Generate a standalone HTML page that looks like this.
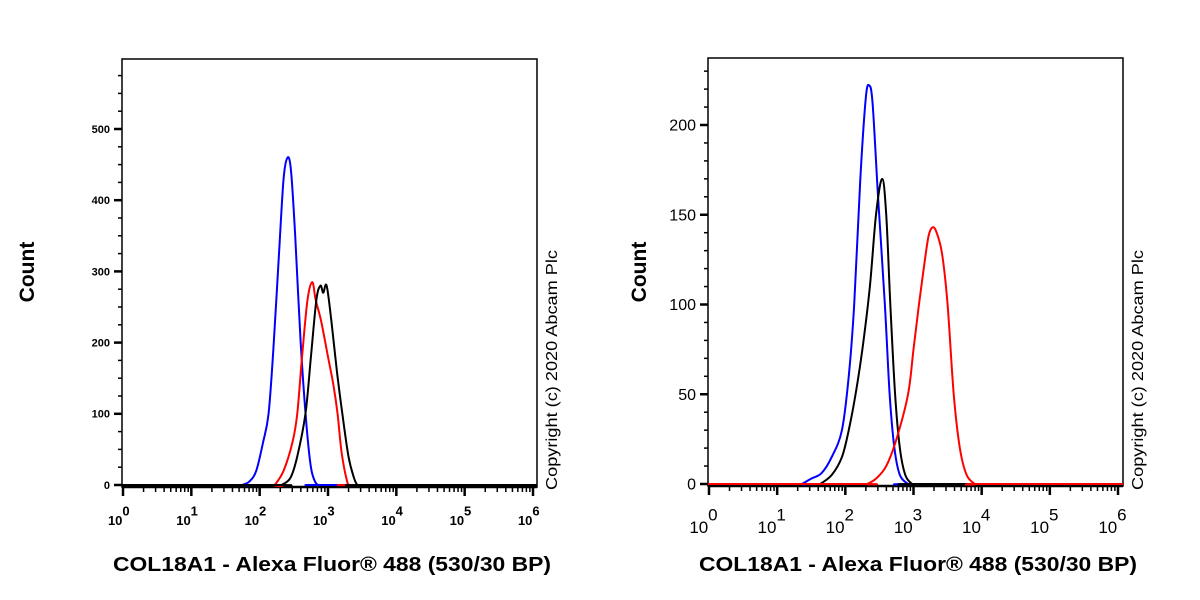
<!DOCTYPE html>
<html><head><meta charset="utf-8"><style>
body{margin:0;background:#fff;}
svg{display:block;font-family:"Liberation Sans",Arial,sans-serif;}
</style></head><body>
<svg id="fig" width="1200" height="600" viewBox="0 0 1200 600"></svg>
<script>
// ---- data (log10 intensity, count) ----
const leftBlueX=[1.74,1.85,1.95,2.05,2.13,2.2,2.28,2.35,2.41,2.46,2.52,2.6,2.68,2.75,2.82,2.88];
const leftBlueY=[0,5,20,60,100,190,320,430,460,440,350,200,90,25,3,0];
const leftRedX=[2.22,2.35,2.48,2.55,2.62,2.7,2.77,2.82,2.9,3.0,3.08,3.14,3.2,3.28,3.32];
const leftRedY=[0,20,60,100,180,260,285,260,230,180,140,100,45,5,0];
const leftBlackX=[2.32,2.45,2.55,2.67,2.75,2.83,2.89,2.93,2.98,3.05,3.13,3.21,3.3,3.38,3.43];
const leftBlackY=[0,10,40,100,180,260,280,270,280,230,160,100,40,10,0];
const rightBlueX=[1.36,1.5,1.65,1.8,1.95,2.05,2.13,2.22,2.3,2.35,2.4,2.48,2.58,2.65,2.72,2.8,2.92];
const rightBlueY=[0,3,6,15,30,60,100,170,215,222,212,160,100,50,20,5,0];
const rightBlackX=[1.63,1.8,1.95,2.05,2.15,2.25,2.36,2.45,2.54,2.6,2.66,2.73,2.8,2.88,2.98];
const rightBlackY=[0,5,15,30,50,75,110,150,170,150,100,50,20,5,0];
const rightRedX=[2.32,2.45,2.6,2.75,2.92,3.0,3.08,3.15,3.22,3.28,3.34,3.42,3.5,3.59,3.68,3.78,3.9];
const rightRedY=[0,3,10,25,50,75,100,120,138,143,140,128,100,50,20,5,0];
const leftYTicks=[0,100,200,300,400,500];
const rightYTicks=[0,50,100,150,200];
const decades=[0,1,2,3,4,5,6];

const NS="http://www.w3.org/2000/svg";
const svg=document.getElementById('fig');
function mk(tag,attrs,parent){const e=document.createElementNS(NS,tag);for(const k in attrs)e.setAttribute(k,attrs[k]);(parent||svg).appendChild(e);return e;}
function smooth(pts){
  let d='M'+pts[0][0]+','+pts[0][1];
  for(let i=0;i<pts.length-1;i++){
    const p0=pts[Math.max(0,i-1)],p1=pts[i],p2=pts[i+1],p3=pts[Math.min(pts.length-1,i+2)];
    const c1=[p1[0]+(p2[0]-p0[0])/6,p1[1]+(p2[1]-p0[1])/6];
    const c2=[p2[0]-(p3[0]-p1[0])/6,p2[1]-(p3[1]-p1[1])/6];
    d+=` C${c1[0]},${c1[1]} ${c2[0]},${c2[1]} ${p2[0]},${p2[1]}`;
  }
  return d;
}

function panel(o){
  const g=mk('g',{});
  
  
  const sx=v=>o.x0+v*(o.x6-o.x0)/6;
  const sy=v=>o.yb-v*(o.yb-o.yTop)/o.ymax;
  const box=mk('rect',{x:o.bx0,y:o.by0,width:o.bx1-o.bx0,height:o.yb+2-o.by0,fill:'none',stroke:'#000','stroke-width':1.5},g);
  
  
  for(let v=0;v<=o.ymaxTick;v+=o.minor){
    const y=sy(v);const major=v%o.majorStep===0;
    mk('line',{x1:o.bx0-(major?8:4),x2:o.bx0,y1:y,y2:y,stroke:'#000','stroke-width':major?2.5:1.5},g);
  }
  o.yticks.forEach(v=>{
    const t=mk('text',{x:o.bx0-12,y:sy(v)+o.yfs*0.35,'text-anchor':'end','font-size':o.yfs,'font-weight':o.ybold?'bold':'normal',fill:'#000'},g);
    t.textContent=v;
    
    
  });
  const ax=o.yb+2;
  mk('line',{x1:o.bx0,x2:o.bx1,y1:ax,y2:ax,stroke:'#000','stroke-width':2.5},g);
  decades.forEach(d=>{
    const x=sx(d);
    mk('line',{x1:x,x2:x,y1:ax,y2:ax+9,stroke:'#000','stroke-width':2.5},g);
    if(d<6){for(let m=2;m<=9;m++){const xx=sx(d+Math.log10(m));mk('line',{x1:xx,x2:xx,y1:ax,y2:ax+5,stroke:'#000','stroke-width':1.5},g);}}
    const t=mk('text',{x:x-o.xfs*0.6,y:o.labY,'text-anchor':'middle','font-size':o.xfs,'font-weight':o.ybold?'bold':'normal',fill:'#000'},g);
    t.textContent='10';
    
    
    const s=mk('text',{x:x+o.xfs*0.55-o.xfs*0.6,y:o.labY-o.xfs*0.75,'font-size':o.xfs,'font-weight':o.ybold?'bold':'normal',fill:'#000'},g);
    s.textContent=d;
  });
  o.series.forEach(s=>{
    const pts=[[o.bx0,o.yb],[sx(s.x[0])-2,o.yb]];
    s.x.forEach((v,i)=>pts.push([sx(v),sy(s.y[i])]));
    pts.push([sx(s.x[s.x.length-1])+2,o.yb]);
    pts.push([o.bx1,o.yb]);
    const p=mk('path',{d:smooth(pts),fill:'none',stroke:s.c,'stroke-width':2,'stroke-linejoin':'round'},g);
    
    
  });
  const yt=mk('text',{x:0,y:0,transform:`translate(${o.countX},272) rotate(-90)`,'text-anchor':'middle','font-size':21,'font-weight':'bold',fill:'#000'},g);
  yt.textContent='Count';
  
  
  const xt=mk('text',{x:o.titleX,y:571,'text-anchor':'middle','font-size':20,'font-weight':'bold',fill:'#000',textLength:438,lengthAdjust:'spacingAndGlyphs'},g);
  xt.textContent='COL18A1 - Alexa Fluor® 488 (530/30 BP)';
  
  
  const cp=mk('text',{x:0,y:0,transform:`translate(${o.copyX},490) rotate(-90)`,'font-size':16,fill:'#000',textLength:240,lengthAdjust:'spacingAndGlyphs'},g);
  cp.textContent='Copyright (c) 2020 Abcam Plc';
  
  
}

panel({name:'left-histogram',bx0:122,bx1:537,by0:59,yb:485,yTop:129,ymax:500,ymaxTick:575,minor:25,majorStep:100,
  x0:123,x6:533,yticks:leftYTicks,yfs:11,ybold:true,xfs:13,labY:525,countX:34,titleX:332,copyX:557,
  series:[{x:leftBlueX,y:leftBlueY,c:'#0000ff',n:'blue-isotype-curve'},{x:leftRedX,y:leftRedY,c:'#ff0000',n:'red-antibody-curve'},{x:leftBlackX,y:leftBlackY,c:'#000',n:'black-unstained-curve'}]});
panel({name:'right-histogram',bx0:708,bx1:1123,by0:58,yb:484,yTop:125,ymax:200,ymaxTick:230,minor:10,majorStep:50,
  x0:709,x6:1118,yticks:rightYTicks,yfs:16,ybold:false,xfs:17,labY:533,countX:646,titleX:918,copyX:1143,
  series:[{x:rightBlueX,y:rightBlueY,c:'#0000ff',n:'blue-isotype-curve'},{x:rightBlackX,y:rightBlackY,c:'#000',n:'black-unstained-curve'},{x:rightRedX,y:rightRedY,c:'#ff0000',n:'red-antibody-curve'}]});
</script>
</body></html>
